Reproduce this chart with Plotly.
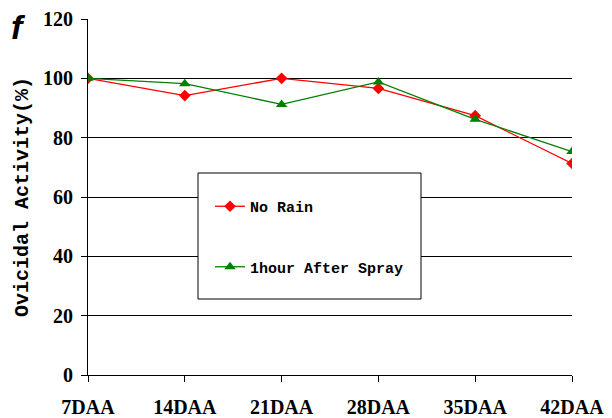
import plotly.graph_objects as go

categories = ["7DAA", "14DAA", "21DAA", "28DAA", "35DAA", "42DAA"]
no_rain = [100.0, 94.2, 100.0, 96.6, 87.4, 71.3]
after_spray = [100.0, 98.2, 91.2, 98.8, 86.2, 75.3]
y_ticks = [0, 20, 40, 60, 80, 100, 120]

x_idx = list(range(len(categories)))

fig = go.Figure()
fig.add_trace(go.Scatter(
    x=x_idx, y=no_rain, name="No Rain", mode="lines+markers",
    line=dict(color="#ff0000", width=1.3),
    marker=dict(symbol="diamond", size=9, color="#ff0000"),
    legendgroup="a"))
fig.add_trace(go.Scatter(
    x=x_idx, y=after_spray, name="1hour After Spray", mode="lines+markers",
    line=dict(color="#008000", width=1.3),
    marker=dict(symbol="triangle-up", size=10, color="#008000"),
    legendgroup="b"))

tick_font = dict(family="Liberation Sans Narrow", size=20, color="black", weight="bold")

# page body has an 8px offset; X0/Y0 are window coordinates of the plot area
OFF = 8
X0, Y0, PW, PH = 88, 19, 484, 356
L, T = X0 - OFF, Y0 - OFF


def px(x):
    return (x - X0) / PW


def py(y):
    return (Y0 + PH - y) / PH


fig.update_layout(
    width=612, height=418,
    margin=dict(l=L, r=612 - L - PW, t=T, b=418 - T - PH, autoexpand=False),
    paper_bgcolor="white", plot_bgcolor="white",
    showlegend=True,
    legend=dict(
        x=px(210), y=py(190), xanchor="left", yanchor="top",
        bgcolor="rgba(0,0,0,0)", borderwidth=0,
        font=dict(family="Liberation Mono", size=15, color="black", weight="bold"),
        tracegroupgap=38, itemwidth=30,
    ),
    xaxis=dict(
        range=[0, 5], tickmode="array", tickvals=x_idx, ticktext=categories,
        showgrid=False, zeroline=False, showline=True, linecolor="black", linewidth=1,
        ticks="outside", ticklen=6, tickcolor="black", tickfont=tick_font,
        ticklabelstandoff=8, automargin=False,
    ),
    yaxis=dict(
        range=[0, 120], tickmode="array", tickvals=y_ticks,
        showgrid=True, gridcolor="black", gridwidth=1, zeroline=False,
        showline=True, linecolor="black", linewidth=1,
        ticks="outside", ticklen=6, tickcolor="black", tickfont=tick_font,
        ticklabelstandoff=4, automargin=False,
        title=dict(text="Ovicidal Activity(%)", standoff=9,
                   font=dict(family="Liberation Mono", size=20, color="black", weight="bold")),
    ),
    shapes=[dict(type="rect", xref="paper", yref="paper",
                 x0=px(198), x1=px(421), y0=py(299), y1=py(173),
                 line=dict(color="black", width=1), fillcolor="white", layer="above")],
    annotations=[dict(text="<b><i>f</i></b>", xref="paper", yref="paper",
                      x=px(9), y=py(6), xanchor="left", yanchor="top",
                      showarrow=False,
                      font=dict(family="Liberation Sans", size=34, color="black"))],
)

fig.write_html("out.html")
